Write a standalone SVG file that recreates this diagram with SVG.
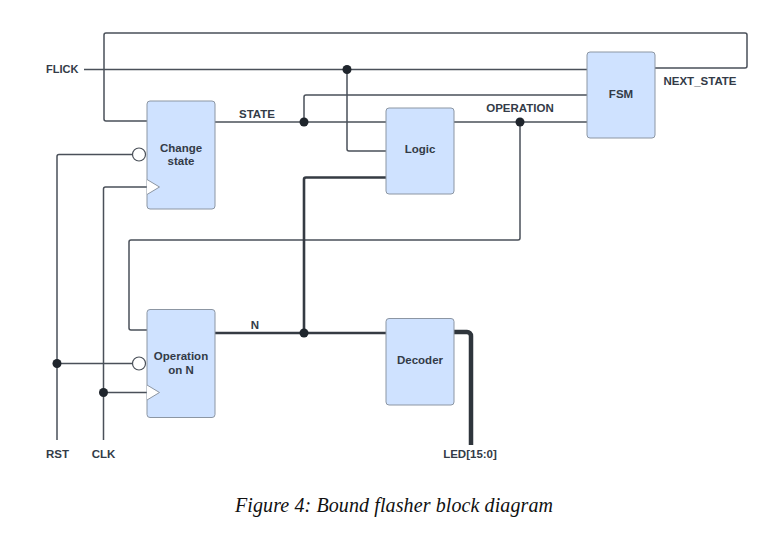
<svg xmlns="http://www.w3.org/2000/svg" width="782" height="533" viewBox="0 0 782 533">
<style>
.box{fill:#cfe2ff;stroke:#8c96a3;stroke-width:1}
.w{fill:none;stroke:#4a5059;stroke-width:1.5;stroke-linejoin:round}
.bus{fill:none;stroke:#353b43;stroke-width:2.6;stroke-linejoin:round}
.led{fill:none;stroke:#2f353c;stroke-width:4.5;stroke-linejoin:round}
.t{font-family:"Liberation Sans",Arial,sans-serif;font-weight:bold;font-size:11.5px;fill:#333b47;text-anchor:middle}
.l{font-family:"Liberation Sans",Arial,sans-serif;font-weight:bold;font-size:11px;fill:#333b47}
.dot{fill:#1f252c}
.inv{fill:#fff;stroke:#4a5059;stroke-width:1.2}
.clk{fill:#fff;stroke:#8c96a3;stroke-width:1}
.cap{font-family:"Liberation Serif","Times New Roman",serif;font-style:italic;font-size:20px;fill:#111;text-anchor:middle}
</style>
<rect width="782" height="533" fill="#fff"/>
<g id="connectors">
<path class="w" d="M147,121 H106 a2,2 0 0 1 -2,-2 V35 a2,2 0 0 1 2,-2 H745 a2,2 0 0 1 2,2 V66 a2,2 0 0 1 -2,2 H655"/>
<path class="w" d="M84,69.5 H587"/>
<path class="w" d="M347,69.5 V149 a2,2 0 0 0 2,2 H386"/>
<path class="w" d="M215,122 H386"/>
<path class="w" d="M304,122 V97 a2,2 0 0 1 2,-2 H587"/>
<path class="w" d="M454,122 H587"/>
<path class="w" d="M520,122 V238 a2,2 0 0 1 -2,2 H131 a2,2 0 0 0 -2,2 V328 a2,2 0 0 0 2,2 H147"/>
<path class="bus" d="M386,177.5 H306 a2,2 0 0 0 -2,2 V333"/>
<path class="bus" d="M215,333 H386"/>
<path class="led" d="M454,332 H467 a4,4 0 0 1 4,4 V445"/>
<path class="w" d="M132,154.5 H59 a2,2 0 0 0 -2,2 V440"/>
<path class="w" d="M57,363.5 H132"/>
<path class="w" d="M147,187 H105.5 a2,2 0 0 0 -2,2 V440"/>
<path class="w" d="M103.5,392.5 H147"/>
<circle class="dot" cx="347" cy="69.5" r="4.5"/>
<circle class="dot" cx="304" cy="122" r="4.5"/>
<circle class="dot" cx="520" cy="122" r="4.5"/>
<circle class="dot" cx="304" cy="333" r="4.5"/>
<circle class="dot" cx="57" cy="363.5" r="4.5"/>
<circle class="dot" cx="103.5" cy="392.5" r="4.5"/>
</g>
<g id="change-state">
<rect class="box" x="147" y="101" width="68" height="108" rx="3"/>
<circle class="inv" cx="139" cy="154.5" r="6.5"/>
<path class="clk" d="M147,179.5 L159.5,187 L147,194.5"/>
<text class="t" x="181" y="151.5">Change</text>
<text class="t" x="181" y="165">state</text>
</g>
<g id="logic">
<rect class="box" x="386" y="108" width="68" height="86" rx="3"/>
<text class="t" x="420" y="153">Logic</text>
</g>
<g id="fsm">
<rect class="box" x="587" y="52" width="68" height="86" rx="3"/>
<text class="t" x="621" y="97.5">FSM</text>
</g>
<g id="operation-on-n">
<rect class="box" x="147" y="309.5" width="68" height="108" rx="3"/>
<circle class="inv" cx="139" cy="363.5" r="6.5"/>
<path class="clk" d="M147,385 L159.5,392.5 L147,400"/>
<text class="t" x="181" y="360">Operation</text>
<text class="t" x="181" y="373.5">on N</text>
</g>
<g id="decoder">
<rect class="box" x="386" y="318.5" width="68" height="86.5" rx="3"/>
<text class="t" x="420" y="364">Decoder</text>
</g>
<g id="labels">
<text class="l" x="46" y="72.5">FLICK</text>
<text class="t" x="257" y="118">STATE</text>
<text class="t" x="520" y="111.5">OPERATION</text>
<text class="t" x="700" y="85">NEXT_STATE</text>
<text class="t" x="255" y="329">N</text>
<text class="t" x="57.5" y="457.5">RST</text>
<text class="t" x="103.5" y="457.5">CLK</text>
<text class="t" x="470" y="457.5">LED[15:0]</text>
</g>
<text class="cap" x="394" y="512" textLength="318" lengthAdjust="spacing">Figure 4: Bound flasher block diagram</text>
</svg>
